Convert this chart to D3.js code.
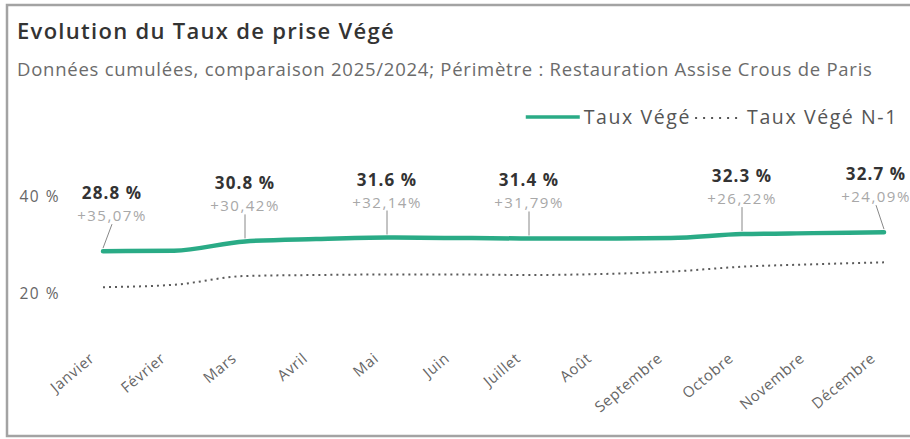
<!DOCTYPE html>
<html>
<head>
<meta charset="utf-8">
<script src="https://cdn.jsdelivr.net/npm/d3@7"></script>
<style>
  body { margin: 0; background: #fff; }
  svg { display: block; font-family: "Open Sans", "Noto Sans", sans-serif; }
</style>
</head>
<body>
<div id="chart"></div>
<script>
// Evolution du taux de prise végé, cumulé 2025 vs 2024
const months = ["Janvier", "Février", "Mars", "Avril", "Mai", "Juin", "Juillet", "Août", "Septembre", "Octobre", "Novembre", "Décembre"];
const tauxVege = [28.8, 28.9, 30.8, 31.3, 31.6, 31.5, 31.4, 31.4, 31.5, 32.3, 32.5, 32.7];
const tauxVegeN1 = [21.4, 21.9, 23.7, 23.9, 24.0, 24.0, 23.9, 24.1, 24.6, 25.6, 26.1, 26.5];
const labelledMonths = ["Janvier", "Mars", "Mai", "Juillet", "Octobre", "Décembre"];
const evolution = ["+35,07%", "+30,42%", "+32,14%", "+31,79%", "+26,22%", "+24,09%"];
const yTicks = [20, 40];

const width = 910, height = 439;
const green = "#2aab86";

const svg = d3.select("#chart")
    .append("svg")
    .attr("width", width)
    .attr("height", height);

// frame (right side falls outside the picture)
svg.append("path")
    .attr("d", `M${width},5 H7 V436 H${width}`)
    .attr("fill", "none")
    .attr("stroke", "#a3a3a3")
    .attr("stroke-width", 2.5);

svg.append("text")
    .attr("x", 17)
    .attr("y", 39)
    .attr("font-size", 22)
    .attr("font-weight", 600)
    .attr("letter-spacing", 1.3)
    .attr("fill", "#333")
    .text("Evolution du Taux de prise Végé");

svg.append("text")
    .attr("x", 17)
    .attr("y", 76)
    .attr("font-size", 18.5)
    .attr("letter-spacing", 0.75)
    .attr("fill", "#6b6b6b")
    .text("Données cumulées, comparaison 2025/2024; Périmètre : Restauration Assise Crous de Paris");

const x = d3.scalePoint()
    .domain(months)
    .range([103, 884]);

const y = d3.scaleLinear()
    .domain([20, 40])
    .range([294, 196.6]);

// y axis : labels only
const yAxis = svg.append("g")
    .attr("transform", "translate(60,0)")
    .call(d3.axisLeft(y).tickValues(yTicks).tickSize(0).tickPadding(0).tickFormat(d => d + " %"));
yAxis.select(".domain").remove();
yAxis.selectAll("text")
    .attr("font-size", 15.5)
    .attr("letter-spacing", 1.5)
    .attr("font-family", "Open Sans")
    .attr("fill", "#666");

// x axis : rotated month names
const xAxis = svg.append("g")
    .attr("transform", "translate(0,360)")
    .call(d3.axisBottom(x).tickSize(0).tickPadding(0));
xAxis.select(".domain").remove();
xAxis.selectAll("text")
    .attr("y", 0)
    .attr("dy", 0)
    .attr("text-anchor", "end")
    .attr("transform", "translate(-8,0) rotate(-40)")
    .attr("font-size", 15)
    .attr("letter-spacing", 0.6)
    .attr("font-family", "Open Sans")
    .attr("fill", "#666");

const line = d3.line()
    .x((d, i) => x(months[i]))
    .y(d => y(d))
    .curve(d3.curveMonotoneX);

svg.append("path")
    .datum(tauxVegeN1)
    .attr("d", line)
    .attr("fill", "none")
    .attr("stroke", "#5a5a5a")
    .attr("stroke-width", 2)
    .attr("stroke-dasharray", "2,4");

svg.append("path")
    .datum(tauxVege)
    .attr("d", line)
    .attr("fill", "none")
    .attr("stroke", green)
    .attr("stroke-width", 4.5)
    .attr("stroke-linecap", "round");

// data labels with leader lines
const labels = labelledMonths.map((m, i) => {
    const idx = months.indexOf(m);
    const shift = idx === 0 ? 9 : idx === months.length - 1 ? -8 : 0;
    return { px: x(m), py: y(tauxVege[idx]), lx: x(m) + shift, value: tauxVege[idx], evo: evolution[i] };
});

const lab = svg.append("g").selectAll("g")
    .data(labels)
    .enter()
    .append("g");

lab.append("line")
    .attr("x1", d => d.lx)
    .attr("y1", d => d.py - 27)
    .attr("x2", d => d.px)
    .attr("y2", d => d.py - 3)
    .attr("stroke", "#888")
    .attr("stroke-width", 1);

lab.append("text")
    .attr("x", d => d.lx)
    .attr("y", d => d.py - 52)
    .attr("text-anchor", "middle")
    .attr("font-size", 17)
    .attr("font-weight", 700)
    .attr("letter-spacing", 1.1)
    .attr("fill", "#333")
    .text(d => d.value.toFixed(1) + " %");

lab.append("text")
    .attr("x", d => d.lx)
    .attr("y", d => d.py - 30)
    .attr("text-anchor", "middle")
    .attr("font-size", 15)
    .attr("letter-spacing", 1.5)
    .attr("fill", "#a8a8a8")
    .text(d => d.evo);

// legend, right aligned
const legend = svg.append("g");
const legendY = 117;
const legendFont = 19.5;
const n1Text = legend.append("text")
    .attr("x", 898)
    .attr("y", legendY + 6.5)
    .attr("text-anchor", "end")
    .attr("font-size", legendFont)
    .attr("letter-spacing", 1.6)
    .attr("fill", "#555")
    .text("Taux Végé N-1");
const w2 = n1Text.node().getComputedTextLength();
const dotEnd = 898 - w2 - 4;
legend.append("line")
    .attr("x1", dotEnd - 48).attr("x2", dotEnd)
    .attr("y1", legendY + 1).attr("y2", legendY + 1)
    .attr("stroke", "#555")
    .attr("stroke-width", 2)
    .attr("stroke-dasharray", "2,6");
const curText = legend.append("text")
    .attr("x", dotEnd - 52)
    .attr("y", legendY + 6.5)
    .attr("text-anchor", "end")
    .attr("font-size", legendFont)
    .attr("letter-spacing", 1.6)
    .attr("fill", "#555")
    .text("Taux Végé");
const w1 = curText.node().getComputedTextLength();
legend.append("line")
    .attr("x1", dotEnd - 52 - w1 - 58).attr("x2", dotEnd - 52 - w1 - 4)
    .attr("y1", legendY).attr("y2", legendY)
    .attr("stroke", green)
    .attr("stroke-width", 3.5);
</script>
</body>
</html>
